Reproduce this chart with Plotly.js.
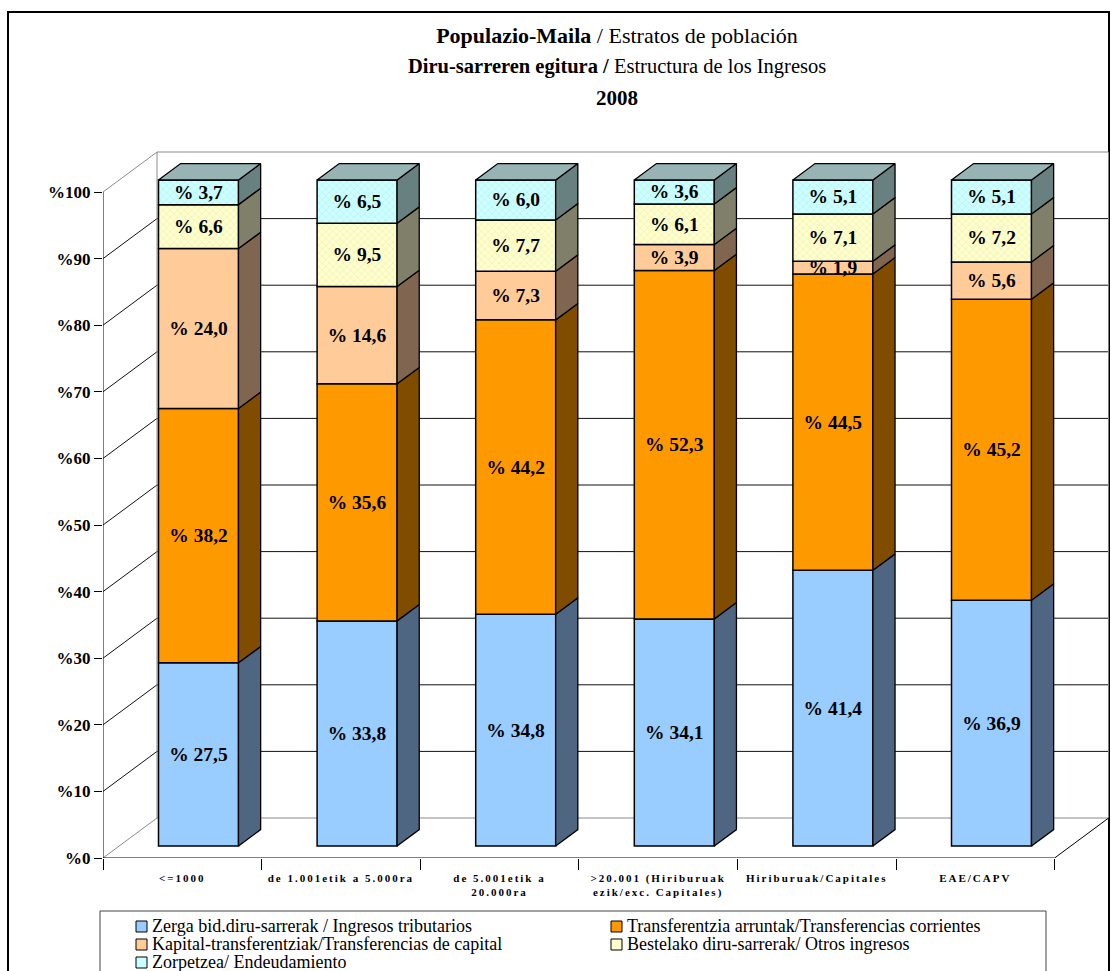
<!DOCTYPE html>
<html><head><meta charset="utf-8">
<script src="https://cdn.plot.ly/plotly-3.0.1.min.js"></script>
<style>html,body{margin:0;padding:0;background:#fff}</style>
</head><body><div id="chart" style="width:1111px;height:971px"></div>
<script>
// ---- data ----
const categories = ['<=1000', 'de 1.001etik a 5.000ra', 'de 5.001etik a 20.000ra', '>20.001 (Hiriburuak ezik/exc. Capitales)', 'Hiriburuak/Capitales', 'EAE/CAPV'];
const tickLabels = ['<=1000', 'de 1.001etik a 5.000ra', 'de 5.001etik a<br>20.000ra', '>20.001 (Hiriburuak<br>ezik/exc. Capitales)', 'Hiriburuak/Capitales', 'EAE/CAPV'];
const seriesNames = ['Zerga bid.diru-sarrerak / Ingresos tributarios', 'Transferentzia arruntak/Transferencias corrientes', 'Kapital-transferentziak/Transferencias de capital', 'Bestelako diru-sarrerak/ Otros ingresos', 'Zorpetzea/ Endeudamiento'];
const zerga     = [27.5, 33.8, 34.8, 34.1, 41.4, 36.9];
const arruntak  = [38.2, 35.6, 44.2, 52.3, 44.5, 45.2];
const kapital   = [24.0, 14.6, 7.3, 3.9, 1.9, 5.6];
const bestelako = [6.6, 9.5, 7.7, 6.1, 7.1, 7.2];
const zorpetzea = [3.7, 6.5, 6.0, 3.6, 5.1, 5.1];
const yTickValues = [0, 10, 20, 30, 40, 50, 60, 70, 80, 90, 100];

const seriesValues = [zerga, arruntak, kapital, bestelako, zorpetzea];
const frontColors = ['#99CCFF', '#FF9900', '#FFCC99', '#FFFFCC', '#CCFFFF'];
const sideColors  = ['#4F6682', '#804D00', '#806650', '#80806A', '#688080'];
const topColor = '#97B3B3';
const patterns = [null, null, null,
  {shape: 'x', size: 5, solidity: 0.12, fgcolor: '#d8d8a8', bgcolor: '#FFFFCC', fillmode: 'replace'},
  {shape: 'x', size: 5, solidity: 0.12, fgcolor: '#a8d8e0', bgcolor: '#CCFFFF', fillmode: 'replace'}];

// ---- geometry ----
const W = 1111, H = 971, L = 103, R = 2, T = 150, B = 113;
const PW = W - L - R, PH = H - T - B;
const catPx = 158.6, pctPx = 6.66;
const xMax = PW / catPx, yMax = PH / pctPx;
const D = 54 / catPx, DY = 40 / pctPx;       // full depth offset
const fx = 0.3 * D, fy = 0.3 * DY;           // bar front plane offset
const sx = 0.41 * D, sy = 0.41 * DY;         // bar depth
const BW = 80 / catPx;
const nCat = categories.length;
const px = v => (v - L) / PW;
const py = v => (H - B - v) / PH;
const fmt = v => '% ' + v.toFixed(1).replace('.', ',');

const traces = [];
const cum = categories.map(() => 0);
const sideTraces = [];
seriesValues.forEach((vals, k) => {
  const base = cum.map(c => c + fy);
  const xs = categories.map((_, i) => i + 0.5 + fx);
  const bar = {
    type: 'bar', name: seriesNames[k], x: xs, y: vals, base: base, width: BW,
    marker: {color: frontColors[k], line: {color: '#000', width: 1.5}},
    text: vals.map(fmt), textposition: 'inside', insidetextanchor: 'middle',
    textangle: 0, constraintext: 'none', cliponaxis: false,
    textfont: {family: 'Liberation Serif', size: 19.5, weight: 'bold', color: '#000'},
    hoverinfo: 'skip', showlegend: false
  };
  if (patterns[k]) bar.marker.pattern = patterns[k];
  traces.push(bar);
  // side faces
  const sxArr = [], syArr = [];
  categories.forEach((_, i) => {
    const x1 = i + 0.5 + fx + BW / 2;
    const b = cum[i] + fy, t = cum[i] + vals[i] + fy;
    sxArr.push(x1, x1 + sx, x1 + sx, x1, x1, null);
    syArr.push(b, b + sy, t + sy, t, b, null);
  });
  sideTraces.push({
    type: 'scatter', mode: 'lines', x: sxArr, y: syArr, fill: 'toself',
    fillcolor: sideColors[k], line: {color: '#000', width: 1.3},
    hoverinfo: 'skip', showlegend: false
  });
  categories.forEach((_, i) => { cum[i] += vals[i]; });
});
// top faces
const tx = [], ty = [];
categories.forEach((_, i) => {
  const x0 = i + 0.5 + fx - BW / 2, x1 = x0 + BW;
  const t = cum[i] + fy;
  tx.push(x0, x1, x1 + sx, x0 + sx, x0, null);
  ty.push(t, t, t + sy, t + sy, t, null);
});
sideTraces.push({type: 'scatter', mode: 'lines', x: tx, y: ty, fill: 'toself',
  fillcolor: topColor, line: {color: '#000', width: 1.3}, hoverinfo: 'skip', showlegend: false});

// ---- walls and grid ----
const shapes = [];
const ln = (x0, y0, x1, y1, color) => shapes.push({type: 'line', xref: 'x', yref: 'y', x0, y0, x1, y1, layer: 'below', line: {color, width: 1}});
yTickValues.forEach(v => {
  const edge = (v === 0 || v === 100);
  const c = edge ? '#8a8a8a' : '#111';
  ln(D, v + DY, nCat + D, v + DY, c);
  ln(0, v, D, v + DY, c);
});
ln(D, DY, D, 100 + DY, '#8a8a8a');
ln(nCat + D, DY, nCat + D, 100 + DY, '#8a8a8a');
ln(nCat, 0, nCat + D, DY, '#000');
// front axes
ln(0, 0, nCat, 0, '#000');
ln(0, 0, 0, 100, '#000');

// frame
shapes.push({type: 'rect', xref: 'paper', yref: 'paper', x0: px(8), x1: px(1109), y0: py(980), y1: py(12), line: {color: '#000', width: 2}, layer: 'below'});

// legend (manual)
const annotations = [];
shapes.push({type: 'rect', xref: 'paper', yref: 'paper', x0: px(100), x1: px(1046), y0: py(985), y1: py(911), line: {color: '#444', width: 1}, fillcolor: '#fff', layer: 'above'});
const legPos = [[136, 926], [611, 926], [136, 944], [611, 944], [136, 962]];
seriesNames.forEach((n, k) => {
  const [lx, ly] = legPos[k];
  shapes.push({type: 'rect', xref: 'paper', yref: 'paper', x0: px(lx), x1: px(lx + 11), y0: py(ly + 6), y1: py(ly - 5), fillcolor: frontColors[k], line: {color: '#000', width: 1}, layer: 'above'});
  annotations.push({xref: 'paper', yref: 'paper', x: px(lx + 14), y: py(ly), xanchor: 'left', yanchor: 'middle', showarrow: false, text: n, font: {family: 'Liberation Serif', size: 18, color: '#000'}});
});

// title lines 2 and 3
annotations.push({xref: 'paper', yref: 'paper', x: px(617), y: py(66), xanchor: 'center', yanchor: 'middle', showarrow: false,
  text: '<b>Diru-sarreren egitura /</b> Estructura de los Ingresos', font: {family: 'Liberation Serif', size: 20.5, color: '#000'}});
annotations.push({xref: 'paper', yref: 'paper', x: px(617), y: py(98), xanchor: 'center', yanchor: 'middle', showarrow: false,
  text: '<b>2008</b>', font: {family: 'Liberation Serif', size: 21, color: '#000'}});

const layout = {
  width: W, height: H, margin: {l: L, r: R, t: T, b: B},
  paper_bgcolor: '#fff', plot_bgcolor: 'rgba(0,0,0,0)',
  barmode: 'overlay', showlegend: false,
  title: {text: '<b>Populazio-Maila</b> / Estratos de población', x: 617 / W, xanchor: 'center', xref: 'container',
    y: 1 - 35 / H, yanchor: 'middle', yref: 'container', font: {family: 'Liberation Serif', size: 22, color: '#000'}},
  xaxis: {range: [0, xMax], showgrid: false, zeroline: false, showline: false, fixedrange: true,
    tickvals: categories.map((_, i) => i + 0.5), ticktext: tickLabels, ticks: '', ticklabelstandoff: 12,
    tickfont: {family: 'Liberation Serif', size: 11, weight: 'bold', color: '#000'},
    minor: {tickvals: categories.map((_, i) => i).concat([nCat]), ticks: 'outside', ticklen: 11, tickcolor: '#000', tickwidth: 1, showgrid: false}},
  yaxis: {range: [0, yMax], showgrid: false, zeroline: false, showline: false, fixedrange: true,
    tickvals: yTickValues, ticktext: yTickValues.map(v => '%' + v), ticks: 'outside', ticklen: 8, tickcolor: '#000',
    tickfont: {family: 'Liberation Serif', size: 17, weight: 'bold', color: '#000'}},
  shapes, annotations
};

Plotly.newPlot('chart', sideTraces.concat(traces), layout, {staticPlot: true}).then(() => {
  document.querySelectorAll('.xtick text').forEach(t => { t.style.letterSpacing = '2px'; });
});
</script></body></html>
